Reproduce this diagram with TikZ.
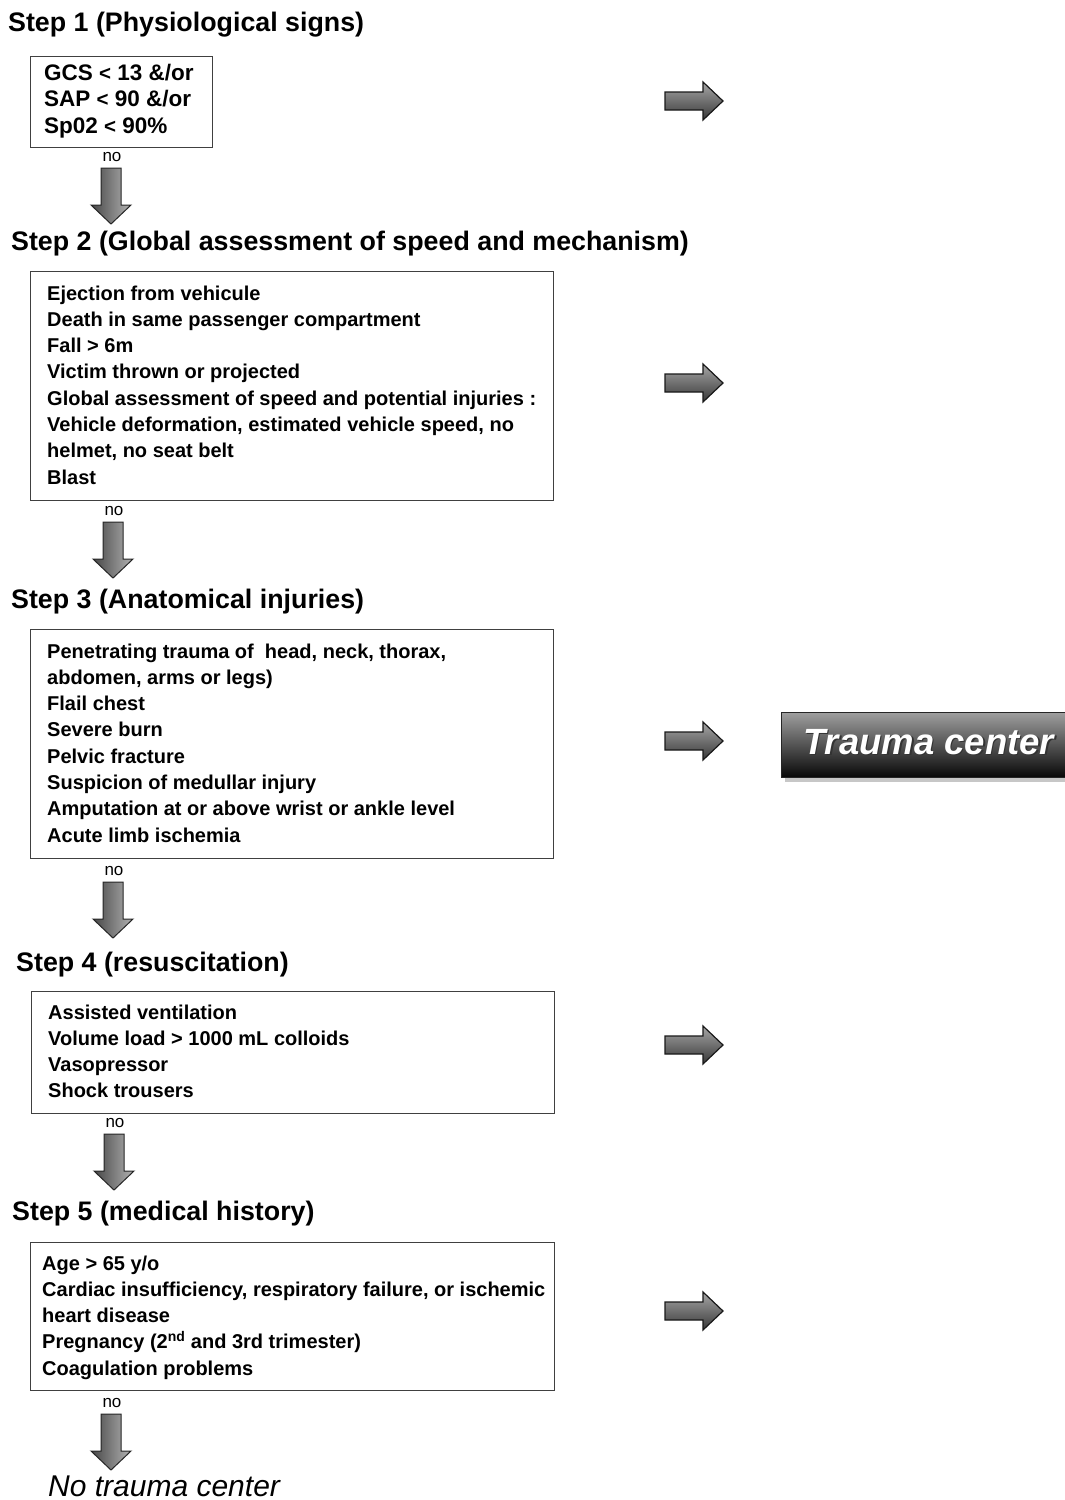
\documentclass[tikz,border=0pt]{standalone}
\usepackage{fontspec}
\setmainfont{Liberation Sans}
\tikzset{
  downarr/.pic={\shade[left color=black!72,right color=black!30,draw=black!85,line width=1pt,line join=miter] (-10,0) -- (10,0) -- (10,37) -- (20,37) -- (0,56) -- (-20,37) -- (-10,37) -- cycle;},
  rightarr/.pic={\shade[top color=black!35,bottom color=black!78,draw=black!90,line width=1.2pt,line join=miter] (0,-9) -- (38,-9) -- (38,-19) -- (58,0) -- (38,19) -- (38,9) -- (0,9) -- cycle;},
}
\begin{document}
\begin{tikzpicture}[x=1pt,y=-1pt,
  steptitle/.style={anchor=base west,inner sep=0pt,font=\fontsize{26.8}{30}\selectfont\bfseries},
  critbox/.style={draw=black!75,line width=1.3pt,anchor=north west,inner sep=0pt,fill=white},
  crittext/.style={anchor=base west,inner sep=0pt,font=\fontsize{20}{26.3}\selectfont\bfseries},
  nolabel/.style={inner sep=0pt,font=\fontsize{17}{20}\selectfont},
]
\useasboundingbox (0,0) rectangle (1065,1500);
\clip (0,0) rectangle (1065,1500);
\fill[white] (0,0) rectangle (1065,1500);

% Step titles
\node[steptitle] (t1) at (8,31.5) {Step 1 (Physiological signs)};
\node[steptitle] (t2) at (11,250.5) {Step 2 (Global assessment of speed and mechanism)};
\node[steptitle] (t3) at (11,608.5) {Step 3 (Anatomical injuries)};
\node[steptitle] (t4) at (16,971.5) {Step 4 (resuscitation)};
\node[steptitle] (t5) at (12,1220.5) {Step 5 (medical history)};

% Boxes
\node[critbox,minimum width=182pt,minimum height=91pt] (b1) at (30,56) {};
\node[critbox,minimum width=523pt,minimum height=229pt] (b2) at (30,271) {};
\node[critbox,minimum width=523pt,minimum height=229pt] (b3) at (30,629) {};
\node[critbox,minimum width=523pt,minimum height=122pt] (b4) at (31,991) {};
\node[critbox,minimum width=524pt,minimum height=148pt] (b5) at (30,1242) {};

% Box texts
\node[anchor=base west,inner sep=0pt,font=\fontsize{22.5}{26.3}\selectfont\bfseries] (x1) at (44,80.5)
  {\parbox[t]{170pt}{\raggedright GCS {\fontsize{20.5}{20}\selectfont<} 13 \&/or\\SAP {\fontsize{20.5}{20}\selectfont<} 90 \&/or\\Sp02 {\fontsize{20.5}{20}\selectfont<} 90\%}};
\node[crittext] (x2) at (47,300)
  {\parbox[t]{500pt}{\raggedright Ejection from vehicule\\Death in same passenger compartment\\Fall > 6m\\Victim thrown or projected\\Global assessment of speed and potential injuries :\\Vehicle deformation, estimated vehicle speed, no\\helmet, no seat belt\\Blast}};
\node[crittext] (x3) at (47,658)
  {\parbox[t]{500pt}{\raggedright Penetrating trauma of~ head, neck, thorax,\\abdomen, arms or legs)\\Flail chest\\Severe burn\\Pelvic fracture\\Suspicion of medullar injury\\Amputation at or above wrist or ankle level\\Acute limb ischemia}};
\node[crittext] (x4) at (48,1019)
  {\parbox[t]{500pt}{\raggedright Assisted ventilation\\Volume load > 1000 mL colloids\\Vasopressor\\Shock trousers}};
\node[crittext] (x5) at (42,1270)
  {\parbox[t]{520pt}{\raggedright Age > 65 y/o\\Cardiac insufficiency, respiratory failure, or ischemic\\heart disease\\Pregnancy (2\textsuperscript{nd} and 3rd trimester)\\Coagulation problems}};

% "no" labels
\node[nolabel] (n1) at (112,157) {no};
\node[nolabel] (n2) at (114,511) {no};
\node[nolabel] (n3) at (114,871) {no};
\node[nolabel] (n4) at (115,1123) {no};
\node[nolabel] (n5) at (112,1403) {no};

% Down arrows
\coordinate (d1) at (111,168);
\coordinate (d2) at (113,522);
\coordinate (d3) at (113,882);
\coordinate (d4) at (114,1134);
\coordinate (d5) at (111,1414);
\pic at (d1) {downarr};
\pic at (d2) {downarr};
\pic at (d3) {downarr};
\pic at (d4) {downarr};
\pic at (d5) {downarr};

% Right arrows
\coordinate (r1) at (665,101);
\coordinate (r2) at (665,383);
\coordinate (r3) at (665,741);
\coordinate (r4) at (665,1045);
\coordinate (r5) at (665,1311);
\pic at (r1) {rightarr};
\pic at (r2) {rightarr};
\pic at (r3) {rightarr};
\pic at (r4) {rightarr};
\pic at (r5) {rightarr};

% Trauma center
\fill[black!22] (785,716) rectangle (1080,782);
\node[anchor=north west,minimum width=300pt,minimum height=65pt,inner sep=0pt,
      top color=black!38,middle color=black!62,bottom color=black!97,draw=black!85,line width=1pt] (tc) at (781,712) {};
\node[anchor=base west,inner sep=0pt,font=\fontsize{36.5}{40}\selectfont\bfseries\itshape,text=black!80] (tcs) at (804.5,755.5) {Trauma center};
\node[anchor=base west,inner sep=0pt,font=\fontsize{36.5}{40}\selectfont\bfseries\itshape,text=white] (tct) at (803,754) {Trauma center};

% No trauma center
\node[anchor=base west,inner sep=0pt,font=\fontsize{30}{34}\selectfont\itshape] (notc) at (48,1496) {No trauma center};
\end{tikzpicture}
\end{document}
